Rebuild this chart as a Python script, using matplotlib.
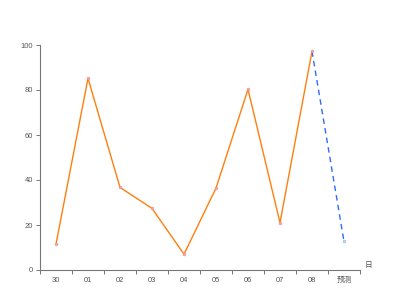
import matplotlib.pyplot as plt
import numpy as np

plt.rcParams['font.family'] = ['Liberation Sans', 'Noto Sans CJK SC', 'DejaVu Sans']

days = ['30', '01', '02', '03', '04', '05', '06', '07', '08', '预测']
actual = [11.5, 85.2, 36.7, 27.4, 7.0, 36.4, 80.3, 21.0, 97.2]
forecast = [97.2, 12.7]

fig = plt.figure(figsize=(4, 3), dpi=100)
ax = fig.add_axes([0.1, 0.1, 0.8, 0.75])

x = np.arange(len(days))
ax.plot(x[:len(actual)], actual, color='#ff7f0e', lw=1.0, zorder=2)
ax.plot(x[:len(actual)], actual, 'o', ms=2, mfc='#f4a6a6', mec='#e89090', mew=0.4, zorder=3)
ax.plot(x[-2:], forecast, color='#2f6bff', lw=1.0, ls=(0, (4, 3)), zorder=2)
ax.plot(x[-1:], forecast[-1:], 'o', ms=2, mfc='#c8d8f0', mec='#9ab0d8', mew=0.4, zorder=3)

ax.set_xlim(-0.5, len(days) - 0.5)
ax.set_ylim(0, 100)
ax.set_yticks([0, 20, 40, 60, 80, 100])
ax.set_xticks(x)
ax.set_xticklabels(days)
ax.set_xticks(np.arange(-0.5, len(days)), minor=True)
ax.tick_params(axis='x', which='major', length=0, labelsize=5.5, labelcolor='#555555', pad=5)
ax.tick_params(axis='x', which='minor', length=3, color='#777777', width=0.7)
ax.tick_params(axis='y', length=3, color='#777777', width=0.7, labelsize=5.5, labelcolor='#555555', pad=2)

for s in ['top', 'right']:
    ax.spines[s].set_visible(False)
for s in ['left', 'bottom']:
    ax.spines[s].set_color('#777777')
    ax.spines[s].set_linewidth(0.8)

ax.text(1.015, 0.005, '日', transform=ax.transAxes, fontsize=5.5, color='#555555', va='bottom', ha='left')

fig.savefig('out.png', dpi=100)
